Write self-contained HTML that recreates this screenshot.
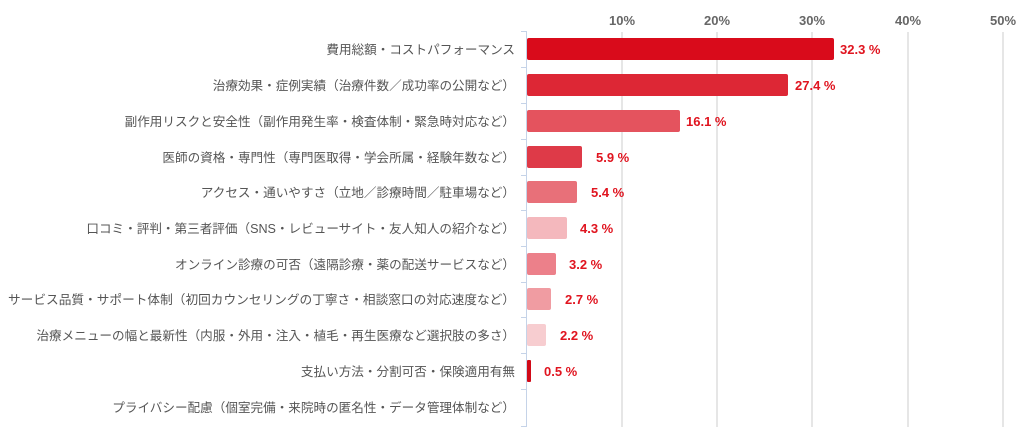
<!DOCTYPE html>
<html><head><meta charset="utf-8"><style>
body{margin:0;background:#fff;width:1024px;height:440px;overflow:hidden}
svg{display:block}
.l{font-family:"Liberation Sans","Noto Sans CJK JP",sans-serif;font-size:12.6px;fill:#555;text-anchor:end}
.t{font-family:"Liberation Sans",sans-serif;font-size:13px;font-weight:bold;fill:#666;text-anchor:middle}
.v{font-family:"Liberation Sans",sans-serif;font-size:13px;font-weight:bold;fill:#e0141f}
</style></head><body>
<svg width="1024" height="440">
<g stroke="#ccc" stroke-width="1">
<line x1="622" y1="32" x2="622" y2="427"/><line x1="717" y1="32" x2="717" y2="427"/><line x1="812" y1="32" x2="812" y2="427"/><line x1="908" y1="32" x2="908" y2="427"/><line x1="1003" y1="32" x2="1003" y2="427"/>
</g>
<g class="t"><text x="622" y="25">10%</text><text x="717" y="25">20%</text><text x="812" y="25">30%</text><text x="908" y="25">40%</text><text x="1003" y="25">50%</text></g>
<g stroke="#c5d3e8" stroke-width="1">
<line x1="526.5" y1="31" x2="526.5" y2="427"/>
<line x1="521" y1="31.5" x2="526" y2="31.5"/><line x1="521" y1="67.5" x2="526" y2="67.5"/><line x1="521" y1="103.5" x2="526" y2="103.5"/><line x1="521" y1="139.5" x2="526" y2="139.5"/><line x1="521" y1="175.5" x2="526" y2="175.5"/><line x1="521" y1="210.5" x2="526" y2="210.5"/><line x1="521" y1="246.5" x2="526" y2="246.5"/><line x1="521" y1="282.5" x2="526" y2="282.5"/><line x1="521" y1="317.5" x2="526" y2="317.5"/><line x1="521" y1="353.5" x2="526" y2="353.5"/><line x1="521" y1="389.5" x2="526" y2="389.5"/><line x1="521" y1="426.5" x2="526" y2="426.5"/>
</g>
<g>
<rect x="527" y="38" width="307" height="22" rx="2" fill="#d90b1b"/>
<rect x="527" y="74" width="261" height="22" rx="2" fill="#dd2735"/>
<rect x="527" y="110" width="153" height="22" rx="2" fill="#e4535e"/>
<rect x="527" y="146" width="55" height="22" rx="2" fill="#de3a48"/>
<rect x="527" y="181" width="50" height="22" rx="2" fill="#e87079"/>
<rect x="527" y="217" width="40" height="22" rx="2" fill="#f4b8bd"/>
<rect x="527" y="253" width="29" height="22" rx="2" fill="#ec808a"/>
<rect x="527" y="288" width="24" height="22" rx="2" fill="#f09ca2"/>
<rect x="527" y="324" width="19" height="22" rx="2" fill="#f7cdd0"/>
<rect x="527" y="360" width="4" height="22" rx="1" fill="#d10a18"/>
</g>
<g class="v">
<text x="840" y="54">32.3 %</text><text x="795" y="90">27.4 %</text><text x="686" y="126">16.1 %</text><text x="596" y="162">5.9 %</text><text x="591" y="197">5.4 %</text><text x="580" y="233">4.3 %</text><text x="569" y="269">3.2 %</text><text x="565" y="304">2.7 %</text><text x="560" y="340">2.2 %</text><text x="544" y="376">0.5 %</text>
</g>
<g class="l">
<text x="515" y="54">費用総額・コストパフォーマンス</text>
<text x="515" y="90">治療効果・症例実績（治療件数／成功率の公開など）</text>
<text x="515" y="126">副作用リスクと安全性（副作用発生率・検査体制・緊急時対応など）</text>
<text x="515" y="162">医師の資格・専門性（専門医取得・学会所属・経験年数など）</text>
<text x="515" y="197">アクセス・通いやすさ（立地／診療時間／駐車場など）</text>
<text x="515" y="233">口コミ・評判・第三者評価（SNS・レビューサイト・友人知人の紹介など）</text>
<text x="515" y="269">オンライン診療の可否（遠隔診療・薬の配送サービスなど）</text>
<text x="515" y="304" textLength="507" lengthAdjust="spacingAndGlyphs">サービス品質・サポート体制（初回カウンセリングの丁寧さ・相談窓口の対応速度など）</text>
<text x="515" y="340">治療メニューの幅と最新性（内服・外用・注入・植毛・再生医療など選択肢の多さ）</text>
<text x="515" y="376">支払い方法・分割可否・保険適用有無</text>
<text x="515" y="412">プライバシー配慮（個室完備・来院時の匿名性・データ管理体制など）</text>
</g>
</svg>
</body></html>
